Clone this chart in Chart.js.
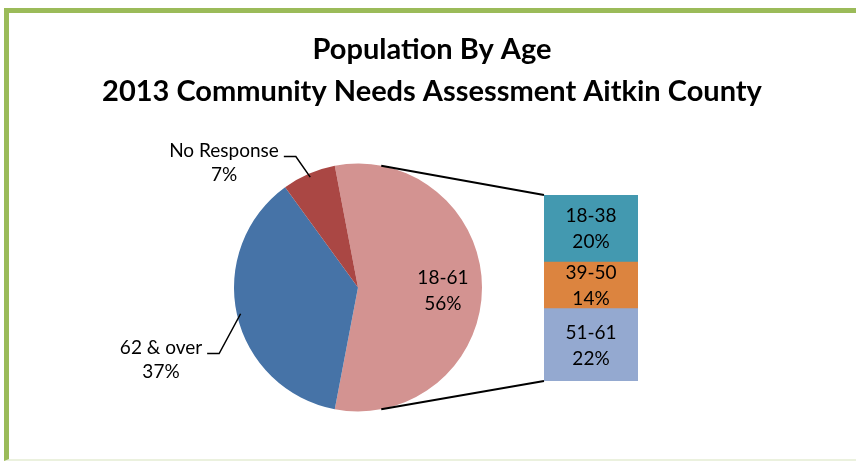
<!DOCTYPE html>
<html>
<head>
<meta charset="utf-8">
<script src="https://cdn.jsdelivr.net/npm/chart.js@4.4.0/dist/chart.umd.min.js"></script>
<style>
  html, body { margin: 0; padding: 0; background: #fff; }
  #wrap { position: relative; width: 856px; height: 461px; overflow: hidden; }
  #frame {
    position: absolute; left: 4px; top: 8px; right: 0; bottom: 0;
    box-sizing: border-box;
    border-left: 5px solid #9bbb59;
    border-top: 5px solid #9bbb59;
    border-bottom: 2px solid #ebf1de;
  }
  canvas { position: absolute; left: 0; top: 0; }
</style>
</head>
<body>
<div id="wrap">
  <div id="frame"></div>
  <canvas id="pieChart" width="856" height="461"></canvas>
  <canvas id="barChart" width="856" height="461"></canvas>
</div>
<script>
// chart data
const titleLines = ['Population By Age', '2013 Community Needs Assessment Aitkin County'];
const pieLabels = ['18-61', '62 & over', 'No Response'];
const pieValues = [56, 37, 7];
const barLabels = ['18-38', '39-50', '51-61'];
const barValues = [20, 14, 22];

const pieColors = ['#d39391', '#4673a7', '#aa4744'];
const barColors = ['#4399b0', '#dc843f', '#94a9d0'];
const fontFamily = 'Lato, "Open Sans", sans-serif';
const labelFont = '19px ' + fontFamily;

// where the outside labels sit, relative to the pie centre
const outerLabelPos = {
    1: { dx: -197, dy: 72 },
    2: { dx: -134, dy: -125 }
};

const pieTotal = pieValues.reduce((a, b) => a + b, 0);
const barTotal = barValues.reduce((a, b) => a + b, 0);

const pieLabelPlugin = {
    id: 'pieLabels',
    afterDatasetsDraw(chart) {
        const ctx = chart.ctx;
        const arcs = chart.getDatasetMeta(0).data;
        ctx.save();
        ctx.font = labelFont;
        ctx.fillStyle = '#000';
        ctx.strokeStyle = '#000';
        ctx.lineWidth = 1.5;
        ctx.textAlign = 'center';
        ctx.textBaseline = 'middle';
        arcs.forEach((arc, i) => {
            const mid = (arc.startAngle + arc.endAngle) / 2;
            const r = arc.outerRadius;
            const lines = [pieLabels[i], Math.round(pieValues[i] / pieTotal * 100) + '%'];
            if (i === 0) {
                const x = arc.x + Math.cos(mid) * r * 0.685;
                const y = arc.y + Math.sin(mid) * r * 0.685 + 3;
                ctx.fillText(lines[0], x, y - 13);
                ctx.fillText(lines[1], x, y + 13);
                return;
            }
            const p = outerLabelPos[i];
            const tx = arc.x + p.dx;
            const ty = arc.y + p.dy;
            ctx.fillText(lines[0], tx, ty - 12);
            ctx.fillText(lines[1], tx, ty + 12);

            const w = ctx.measureText(lines[0]).width;
            const ex = tx + w / 2 + 5;
            const ey = ty - 6;
            ctx.beginPath();
            ctx.moveTo(ex, ey);
            ctx.lineTo(ex + 12, ey);
            ctx.lineTo(arc.x + Math.cos(mid) * r * 0.97, arc.y + Math.sin(mid) * r * 0.97);
            ctx.stroke();
        });
        ctx.restore();
    }
};

const pieChart = new Chart(document.getElementById('pieChart'), {
    type: 'pie',
    data: {
        labels: pieLabels,
        datasets: [{
            data: pieValues,
            backgroundColor: pieColors,
            borderWidth: 0,
            hoverOffset: 0,
            offset: 0
        }]
    },
    options: {
        responsive: false,
        animation: false,
        events: [],
        rotation: 90 - pieValues[0] / pieTotal * 180,
        layout: { padding: { left: 234, right: 374, top: 163.5, bottom: 49.5 } },
        plugins: {
            legend: { display: false },
            tooltip: { enabled: false }
        }
    },
    plugins: [pieLabelPlugin]
});

const barPlugin = {
    id: 'barOfPie',
    afterDatasetsDraw(chart) {
        const ctx = chart.ctx;
        ctx.save();

        // connector lines from the split slice to the bar
        const arc = pieChart.getDatasetMeta(0).data[0];
        const mid = (arc.startAngle + arc.endAngle) / 2;
        const half = (arc.endAngle - arc.startAngle) / 2;
        const a1 = mid - (Math.PI - half);
        const a2 = mid + (Math.PI - half);
        const first = chart.getDatasetMeta(0).data[0];
        const last = chart.getDatasetMeta(barValues.length - 1).data[0];
        const left = first.x - first.width / 2;
        const top = Math.min(first.y, first.base);
        const bottom = Math.max(last.y, last.base);
        ctx.strokeStyle = '#000';
        ctx.lineWidth = 2;
        ctx.beginPath();
        ctx.moveTo(arc.x + Math.cos(a1) * arc.outerRadius, arc.y + Math.sin(a1) * arc.outerRadius);
        ctx.lineTo(left, top);
        ctx.moveTo(arc.x + Math.cos(a2) * arc.outerRadius, arc.y + Math.sin(a2) * arc.outerRadius);
        ctx.lineTo(left, bottom);
        ctx.stroke();

        // segment labels
        ctx.font = labelFont;
        ctx.fillStyle = '#000';
        ctx.textAlign = 'center';
        ctx.textBaseline = 'middle';
        barValues.forEach((v, i) => {
            const el = chart.getDatasetMeta(i).data[0];
            const cy = (el.y + el.base) / 2 + 1;
            ctx.fillText(barLabels[i], el.x, cy - 13);
            ctx.fillText(Math.round(v / pieTotal * 100) + '%', el.x, cy + 13);
        });
        ctx.restore();
    }
};

const hiddenAxis = {
    display: true,
    grid: { display: false },
    border: { display: false },
    ticks: { display: false }
};

const barChart = new Chart(document.getElementById('barChart'), {
    type: 'bar',
    data: {
        labels: [''],
        datasets: barLabels.map((label, i) => ({
            label: label,
            data: [barValues[i]],
            backgroundColor: barColors[i],
            borderWidth: 0,
            barPercentage: 1,
            categoryPercentage: 1
        }))
    },
    options: {
        responsive: false,
        animation: false,
        events: [],
        layout: { padding: { left: 8, right: 0, top: 0, bottom: 0 } },
        plugins: {
            legend: { display: false },
            tooltip: { enabled: false },
            title: {
                display: true,
                text: titleLines,
                color: '#000',
                font: { family: fontFamily, size: 29, weight: 'bold', lineHeight: '42px' },
                padding: { top: 29, bottom: 82 }
            }
        },
        scales: {
            x: { ...hiddenAxis, stacked: true, afterFit: (s) => { s.height = 80; } },
            y: { ...hiddenAxis, stacked: true, reverse: true, min: 0, max: barTotal, afterFit: (s) => { s.width = 536; } },
            y2: { ...hiddenAxis, type: 'linear', position: 'right', afterFit: (s) => { s.width = 218; } }
        }
    },
    plugins: [barPlugin]
});
</script>
</body>
</html>
